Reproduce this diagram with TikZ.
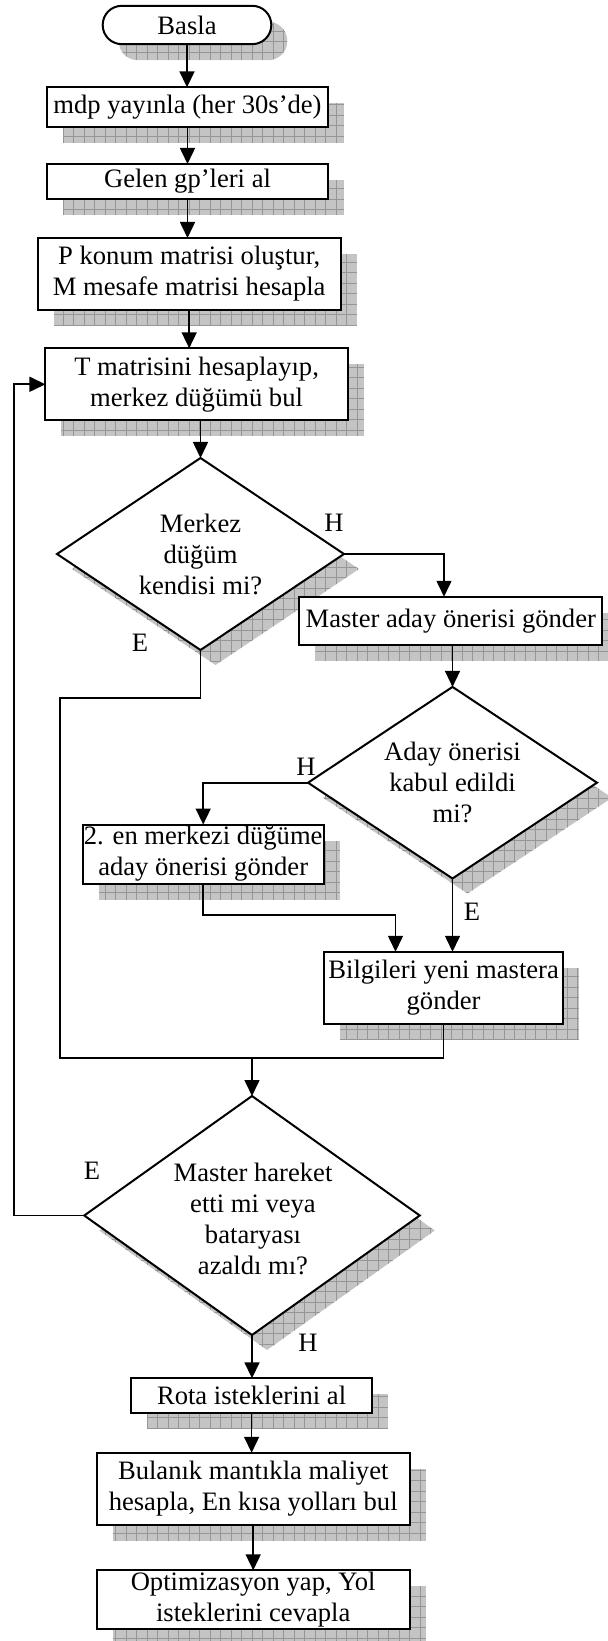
\documentclass[tikz,border=0pt]{standalone}
\usepackage{fontspec}
\setmainfont{Liberation Serif}
\usetikzlibrary{arrows.meta,shapes.geometric,backgrounds,calc}
\definecolor{shfill}{RGB}{196,196,196}
\definecolor{shline}{RGB}{150,150,150}
\newcommand\boxshadow[1]{\path[shad] ([shift={(16,16)}]#1.north west) rectangle ([shift={(16,16)}]#1.south east);}
\newcommand\diashadow[1]{\path[shad] ([shift={(15,15)}]#1.north) -- ([shift={(15,15)}]#1.east) -- ([shift={(15,15)}]#1.south) -- ([shift={(15,15)}]#1.west) -- cycle;}
\begin{document}
\begin{tikzpicture}[x=0.5pt, y=-0.5pt,
  every node/.style={font=\fontsize{13.3pt}{15.5pt}\selectfont, inner sep=0pt, outer sep=0pt},
  box/.style={draw, line width=1pt, fill=white, rectangle, align=center},
  dia/.style={draw, line width=1pt, fill=white, diamond},
  line/.style={line width=0.8pt},
  arr/.style={line width=0.8pt, -{Triangle[length=8pt,width=7.5pt]}},
  shad/.style={fill=shfill, path picture={\draw[shline, line width=0.5pt] (path picture bounding box.south west) grid[step=5.25pt] (path picture bounding box.north east);}},
  txt/.style={align=center}]
\useasboundingbox (0,0) rectangle (608,1641);

% nodes
\node[box, rounded corners=9.5pt, minimum width=84.3pt, minimum height=19.15pt] (start) at (187,25) {Basla};
\node[box, minimum width=140.5pt, minimum height=19.85pt] (mdp) at (187.5,107.2) {mdp yayınla (her 30s’de)};
\node[box, minimum width=140.5pt, minimum height=17.5pt] (gel) at (187.5,181.5) {Gelen gp’leri al};
\node[box, minimum width=151.6pt, minimum height=36pt] (pkon) at (189.2,274) {P konum matrisi oluştur,\\M mesafe matrisi hesapla};
\node[box, minimum width=151.2pt, minimum height=36pt] (tmat) at (196.6,384.3) {T matrisini hesaplayıp,\\merkez düğümü bul};
\node[dia, minimum width=143.5pt, minimum height=96pt] (d1) at (200.5,554) {};
\node[txt] (d1t) at (200.5,554) {Merkez\\düğüm\\kendisi mi?};
\node[box, minimum width=151.5pt, minimum height=24.15pt] (mas) at (450.75,620.9) {Master aday önerisi gönder};
\node[dia, minimum width=144.5pt, minimum height=95.8pt] (d2) at (452.5,782.7) {};
\node[txt] (d2t) at (452.5,782.5) {Aday önerisi\\kabul edildi\\mi?};
\node[box, minimum width=120.6pt, minimum height=29.5pt] (b2) at (203.2,854) {2. en merkezi düğüme\\aday önerisi gönder};
\node[box, minimum width=119.8pt, minimum height=36.15pt] (bil) at (443.6,987.9) {Bilgileri yeni mastera\\gönder};
\node[dia, minimum width=167.75pt, minimum height=119.5pt] (d3) at (252,1215.5) {};
\node[txt] (d3t) at (253,1219) {Master hareket\\etti mi veya\\bataryası\\azaldı mı?};
\node[box, minimum width=120.6pt, minimum height=17.5pt] (rota) at (251.6,1395.8) {Rota isteklerini al};
\node[box, minimum width=156.65pt, minimum height=36.15pt] (bul) at (253.2,1488.9) {Bulanık mantıkla maliyet\\hesapla, En kısa yolları bul};
\node[box, minimum width=156.65pt, minimum height=29.2pt] (opt) at (253.2,1599.5) {Optimizasyon yap, Yol\\isteklerini cevapla};

% labels
\node (lh1) at (334,522.7) {H};
\node (le1) at (140,643) {E};
\node (lh2) at (306,766.7) {H};
\node (le2) at (472,911.7) {E};
\node (le3) at (92,1171) {E};
\node (lh3) at (308,1343) {H};

% helper coordinates
\coordinate (mtop) at (444,0);
\coordinate (j1) at (60,698);
\coordinate (j2) at (60,1058);
\coordinate (j3) at (395.5,915);
\coordinate (fb) at (14,0);

% connectors
\draw[arr] (start.south) -- (start.south |- mdp.north);
\draw[arr] (mdp.south) -- (mdp.south |- gel.north);
\draw[arr] (gel.south) -- (gel.south |- pkon.north);
\draw[arr] (pkon.south) -- (pkon.south |- tmat.north);
\draw[arr] (tmat.south -| d1.north) -- (d1.north);
\draw[arr] (d1.east) -| (mtop |- mas.north);
\draw[arr] (mas.south -| d2.north) -- (d2.north);
\draw[arr] (d2.west) -| (b2.north);
\draw[arr] (b2.south) |- (j3) -- (j3 |- bil.north);
\draw[arr] (d2.south) -- (d2.south |- bil.north);
\draw[line] (d1.south) |- (j1) -- (j2) -| (bil.south);
\draw[arr] (d3.north |- j2) -- (d3.north);
\draw[arr] (d3.west) -- (d3.west -| fb) |- (tmat.west);
\draw[arr] (d3.south) -- (d3.south |- rota.north);
\draw[arr] (rota.south) -- (rota.south |- bul.north);
\draw[arr] (bul.south) -- (bul.south |- opt.north);

% shadows
\begin{pgfonlayer}{background}
\clip (0,0) rectangle (608,1641);
\path[shad, rounded corners=9.5pt] ([shift={(16,16)}]start.north west) rectangle ([shift={(16,16)}]start.south east);
\boxshadow{mdp}
\boxshadow{gel}
\boxshadow{pkon}
\boxshadow{tmat}
\diashadow{d1}
\boxshadow{mas}
\diashadow{d2}
\boxshadow{b2}
\boxshadow{bil}
\diashadow{d3}
\boxshadow{rota}
\boxshadow{bul}
\boxshadow{opt}
\end{pgfonlayer}
\end{tikzpicture}
\end{document}
